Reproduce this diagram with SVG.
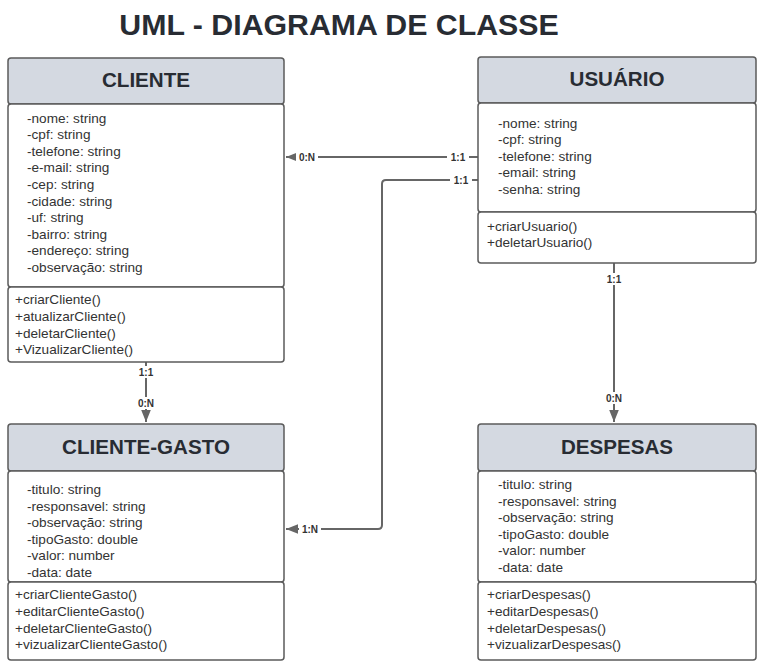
<svg xmlns="http://www.w3.org/2000/svg" width="766" height="672" viewBox="0 0 766 672">
<style>
.hdr{fill:#d4d9e1;stroke:#5b5b5b;stroke-width:1.5}
.box{fill:#fff;stroke:#5b5b5b;stroke-width:1.5}
.ht{font-family:"Liberation Sans",Arial,sans-serif;font-weight:bold;font-size:20.6px;fill:#282c33;text-anchor:middle;dominant-baseline:central}
.t{font-family:"Liberation Sans",Arial,sans-serif;font-size:13.6px;fill:#333;dominant-baseline:central}
.ln{fill:none;stroke:#666;stroke-width:2}
.lb{font-family:"Liberation Sans",Arial,sans-serif;font-size:10px;font-weight:bold;fill:#333;text-anchor:middle;dominant-baseline:central}
.lbg{fill:#fff}
</style>
<defs>
<marker id="ar" viewBox="0 0 10 10" refX="10" refY="5" markerWidth="6" markerHeight="6" markerUnits="strokeWidth" orient="auto">
<path d="M0,1 L10,5 L0,9 Z" fill="#666"/>
</marker>
</defs>
<rect width="766" height="672" fill="#fff"/>
<text x="339" y="24" font-family="Liberation Sans,Arial,sans-serif" font-weight="bold" font-size="30.3" fill="#282c33" text-anchor="middle" dominant-baseline="central">UML - DIAGRAMA DE CLASSE</text>

<g id="connectors">
<path class="ln" d="M478,157 H286" marker-end="url(#ar)"/>
<path class="ln" d="M478,180 H386 Q382,180 382,184 V525 Q382,529 378,529 H286" marker-end="url(#ar)"/>
<path class="ln" d="M146,362 V422" marker-end="url(#ar)"/>
<path class="ln" d="M614,263 V422" marker-end="url(#ar)"/>
<rect class="lbg" x="447" y="151" width="22" height="12"/><text class="lb" x="458" y="157">1:1</text>
<rect class="lbg" x="296" y="151" width="22" height="12"/><text class="lb" x="307" y="157">0:N</text>
<rect class="lbg" x="450" y="174" width="22" height="12"/><text class="lb" x="461" y="180">1:1</text>
<rect class="lbg" x="299" y="523" width="22" height="12"/><text class="lb" x="310" y="529">1:N</text>
<rect class="lbg" x="135" y="366" width="22" height="12"/><text class="lb" x="146" y="372">1:1</text>
<rect class="lbg" x="135" y="397" width="22" height="12"/><text class="lb" x="146" y="403">0:N</text>
<rect class="lbg" x="603" y="273" width="22" height="12"/><text class="lb" x="614" y="279">1:1</text>
<rect class="lbg" x="603" y="392" width="22" height="12"/><text class="lb" x="614" y="398">0:N</text>
</g>

<g id="cliente">
<rect class="hdr" x="8" y="58" width="276" height="46" rx="3"/>
<text class="ht" x="146" y="79">CLIENTE</text>
<rect class="box" x="8" y="104" width="276" height="183" rx="3"/>
<rect class="box" x="8" y="287" width="276" height="75" rx="3"/>
<text class="t" x="27" y="118">-nome: string</text>
<text class="t" x="27" y="134.6">-cpf: string</text>
<text class="t" x="27" y="151.2">-telefone: string</text>
<text class="t" x="27" y="167.8">-e-mail: string</text>
<text class="t" x="27" y="184.4">-cep: string</text>
<text class="t" x="27" y="201">-cidade: string</text>
<text class="t" x="27" y="217.6">-uf: string</text>
<text class="t" x="27" y="234.2">-bairro: string</text>
<text class="t" x="27" y="250.8">-endereço: string</text>
<text class="t" x="27" y="267.4">-observação: string</text>
<text class="t" x="15" y="299.5">+criarCliente()</text>
<text class="t" x="15" y="316.3">+atualizarCliente()</text>
<text class="t" x="15" y="333.1">+deletarCliente()</text>
<text class="t" x="15" y="349.9">+VizualizarCliente()</text>
</g>

<g id="usuario">
<rect class="hdr" x="478" y="57" width="278" height="46" rx="3"/>
<text class="ht" x="617" y="78">USUÁRIO</text>
<rect class="box" x="478" y="103" width="278" height="109" rx="3"/>
<rect class="box" x="478" y="212" width="278" height="51" rx="3"/>
<text class="t" x="498" y="123">-nome: string</text>
<text class="t" x="498" y="139.6">-cpf: string</text>
<text class="t" x="498" y="156.2">-telefone: string</text>
<text class="t" x="498" y="172.8">-email: string</text>
<text class="t" x="498" y="189.4">-senha: string</text>
<text class="t" x="487" y="226">+criarUsuario()</text>
<text class="t" x="487" y="242.6">+deletarUsuario()</text>
</g>

<g id="cliente-gasto">
<rect class="hdr" x="8" y="424" width="276" height="47" rx="3"/>
<text class="ht" x="146" y="446">CLIENTE-GASTO</text>
<rect class="box" x="8" y="471" width="276" height="111" rx="3"/>
<rect class="box" x="8" y="582" width="276" height="78" rx="3"/>
<text class="t" x="27" y="489.5">-titulo: string</text>
<text class="t" x="27" y="506.1">-responsavel: string</text>
<text class="t" x="27" y="522.7">-observação: string</text>
<text class="t" x="27" y="539.3">-tipoGasto: double</text>
<text class="t" x="27" y="555.9">-valor: number</text>
<text class="t" x="27" y="572.5">-data: date</text>
<text class="t" x="15" y="594.5">+criarClienteGasto()</text>
<text class="t" x="15" y="611.3">+editarClienteGasto()</text>
<text class="t" x="15" y="628.1">+deletarClienteGasto()</text>
<text class="t" x="15" y="644.9">+vizualizarClienteGasto()</text>
</g>

<g id="despesas">
<rect class="hdr" x="478" y="424" width="278" height="47" rx="3"/>
<text class="ht" x="617" y="446">DESPESAS</text>
<rect class="box" x="478" y="471" width="278" height="111" rx="3"/>
<rect class="box" x="478" y="582" width="278" height="78" rx="3"/>
<text class="t" x="498" y="484.5">-titulo: string</text>
<text class="t" x="498" y="501.1">-responsavel: string</text>
<text class="t" x="498" y="517.7">-observação: string</text>
<text class="t" x="498" y="534.3">-tipoGasto: double</text>
<text class="t" x="498" y="550.9">-valor: number</text>
<text class="t" x="498" y="567.5">-data: date</text>
<text class="t" x="487" y="594.5">+criarDespesas()</text>
<text class="t" x="487" y="611.3">+editarDespesas()</text>
<text class="t" x="487" y="628.1">+deletarDespesas()</text>
<text class="t" x="487" y="644.9">+vizualizarDespesas()</text>
</g>
</svg>
